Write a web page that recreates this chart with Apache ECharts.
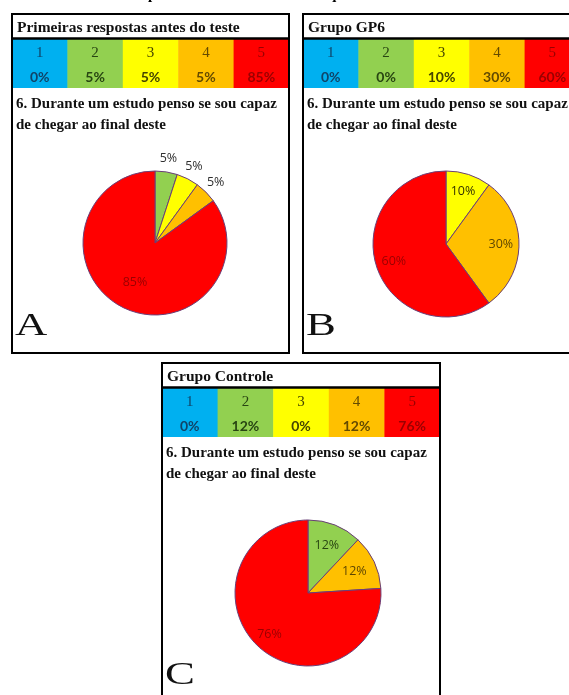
<!DOCTYPE html>
<html>
<head>
<meta charset="utf-8">
<script src="https://cdn.jsdelivr.net/npm/echarts@6.0.0/dist/echarts.min.js"></script>
<style>
  html, body { margin: 0; padding: 0; background: #ffffff; }
  #chart { width: 569px; height: 695px; }
</style>
</head>
<body>
<div id="chart"></div>
<script>
// ---- data ----
const scaleLevels = ['1', '2', '3', '4', '5'];
const percentA = [0, 5, 5, 5, 85];
const percentB = [0, 0, 10, 30, 60];
const percentC = [0, 12, 0, 12, 76];
const panelTitles = ['Primeiras respostas antes do teste', 'Grupo GP6', 'Grupo Controle'];
const panelLetters = ['A', 'B', 'C'];
const questionLines = ['6. Durante um estudo penso se sou capaz', 'de chegar ao final deste'];
const headline = 'Respostas antes de um estudo e quando de um teste final';

// ---- styling ----
const levelFill = ['#00b0f0', '#92d050', '#ffff00', '#ffc000', '#ff0000'];
const levelInk = ['#0f4468', '#284512', '#454500', '#644a00', '#9a0000'];
const sliceInk = ['#0f4468', '#284512', '#333300', '#5e4600', '#9a0000'];
const serif = '"Liberation Serif", "DejaVu Serif", serif';
const sans = 'Lato, "Open Sans", sans-serif';
const labelSans = '"Open Sans", "DejaVu Sans", sans-serif';

// panel frames and pie placement; labelRing = radial position of each slice label
const panels = [
  { values: percentA, x: 12, y: 14, w: 277, h: 339, cx: 155, cy: 243, r: 72,
    labelRing: [0, 1.15, 1.15, 1.15, 0.57], outerInk: '#2e2e2e' },
  { values: percentB, x: 303, y: 14, w: 277, h: 339, cx: 446, cy: 244, r: 73,
    labelRing: [0, 0, 0.71, 0.71, 0.71], outerInk: '#2e2e2e' },
  { values: percentC, x: 162, y: 363, w: 278, h: 340, cx: 308, cy: 593, r: 73,
    labelRing: [0, 0.66, 0, 0.66, 0.73], outerInk: '#2e2e2e' }
];

const graphics = [];
const series = [];

// clipped headline running off the top edge
graphics.push({
  type: 'text', x: 305, y: -5, z: 1,
  style: { text: headline, font: 'bold 15px ' + serif, fill: '#000', align: 'center', verticalAlign: 'middle' }
});

panels.forEach((p, i) => {
  // frame
  graphics.push({
    type: 'rect', z: 1,
    shape: { x: p.x, y: p.y, width: p.w, height: p.h },
    style: { fill: '#ffffff', stroke: '#000000', lineWidth: 2 }
  });
  // title row
  graphics.push({
    type: 'text', x: p.x + 5, y: p.y + 14, z: 3,
    style: { text: panelTitles[i], font: 'bold 15.5px ' + serif, fill: '#111', align: 'left', verticalAlign: 'middle' }
  });
  // coloured scale row
  const cellW = p.w / scaleLevels.length;
  const rowTop = p.y + 25, rowH = 49;
  scaleLevels.forEach((lvl, k) => {
    const cx = p.x + cellW * k;
    graphics.push({
      type: 'rect', z: 2,
      shape: { x: cx, y: rowTop, width: cellW + 0.5, height: rowH },
      style: { fill: levelFill[k] }
    });
    graphics.push({
      type: 'text', x: cx + cellW / 2, y: p.y + 39, z: 3,
      style: { text: lvl, font: '15px ' + serif, fill: levelInk[k], align: 'center', verticalAlign: 'middle' }
    });
    graphics.push({
      type: 'text', x: cx + cellW / 2, y: p.y + 63, z: 3,
      style: { text: p.values[k] + '%', font: 'bold 14px ' + sans, fill: levelInk[k], align: 'center', verticalAlign: 'middle' }
    });
  });
  // separator under title
  graphics.push({
    type: 'line', z: 4,
    shape: { x1: p.x, y1: rowTop - 0.5, x2: p.x + p.w, y2: rowTop - 0.5 },
    style: { stroke: '#000', lineWidth: 2.5 }
  });
  // frame outline on top of cells
  graphics.push({
    type: 'rect', z: 4,
    shape: { x: p.x, y: p.y, width: p.w, height: p.h },
    style: { fill: null, stroke: '#000000', lineWidth: 2 }
  });
  // question text
  questionLines.forEach((line, j) => {
    graphics.push({
      type: 'text', x: p.x + 4, y: p.y + 90 + j * 21, z: 3,
      style: { text: line, font: 'bold 15px ' + serif, fill: '#111', align: 'left', verticalAlign: 'middle' }
    });
  });
  // panel letter (drawn slightly widened)
  graphics.push({
    type: 'text', x: p.x + 3, y: p.y + 313, z: 3, scaleX: 1.4,
    style: { text: panelLetters[i], font: '32px ' + serif, fill: '#111', align: 'left', verticalAlign: 'middle' }
  });

  // slices (zero shares are left out)
  const sliceData = [];
  scaleLevels.forEach((lvl, k) => {
    if (p.values[k] > 0) sliceData.push({ name: lvl, value: p.values[k], k: k });
  });

  series.push({
    type: 'pie', center: [p.cx, p.cy], radius: [0, p.r],
    startAngle: 90, clockwise: true, animation: false, silent: true,
    label: { show: false }, labelLine: { show: false },
    data: sliceData.map(d => ({
      name: d.name, value: d.value,
      itemStyle: { color: levelFill[d.k], borderColor: '#6a3f78', borderWidth: 1 }
    }))
  });

  // label rings: an invisible band per radial position carrying the slice labels
  const rings = [...new Set(sliceData.map(d => p.labelRing[d.k]))];
  rings.forEach(ring => {
    const half = 0.12;
    series.push({
      type: 'pie', center: [p.cx, p.cy], radius: [(ring - half) * p.r, (ring + half) * p.r],
      startAngle: 90, clockwise: true, animation: false, silent: true,
      avoidLabelOverlap: false, minShowLabelAngle: 0,
      labelLine: { show: false },
      data: sliceData.map(d => ({
        name: d.name, value: d.value,
        itemStyle: { color: 'rgba(0,0,0,0)', borderWidth: 0 },
        label: {
          show: p.labelRing[d.k] === ring,
          position: 'inside',
          formatter: d.value + '%',
          fontFamily: labelSans, fontSize: 12.5,
          color: ring > 1 ? p.outerInk : sliceInk[d.k]
        }
      }))
    });
  });
});

const chart = echarts.init(document.getElementById('chart'), null, { renderer: 'canvas' });
chart.setOption({
  backgroundColor: '#ffffff',
  animation: false,
  graphic: { elements: graphics },
  series: series
});
</script>
</body>
</html>
